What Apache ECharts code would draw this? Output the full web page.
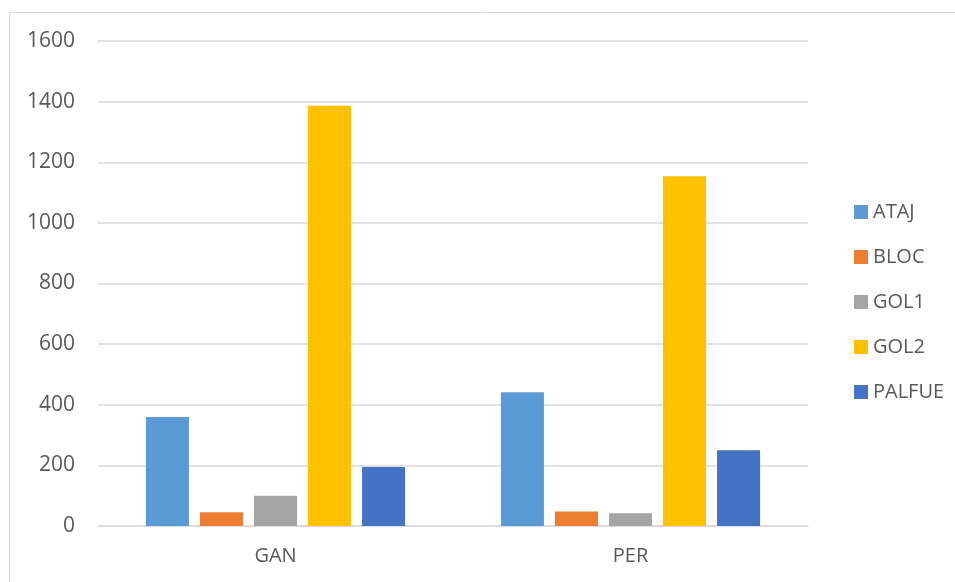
<!DOCTYPE html>
<html>
<head>
<meta charset="utf-8">
<script src="https://cdn.jsdelivr.net/npm/echarts@6/dist/echarts.min.js"></script>
<style>
  html, body { margin: 0; padding: 0; background: #fff; }
  #chart { width: 955px; height: 582px; }
</style>
</head>
<body>
<div id="chart"></div>
<script>
var categories = ['GAN', 'PER'];
var seriesNames = ['ATAJ', 'BLOC', 'GOL1', 'GOL2', 'PALFUE'];
var ataj = [360, 441];
var bloc = [45, 48];
var gol1 = [100, 42];
var gol2 = [1386, 1154];
var palfue = [195, 250];
var colors = ['#5B9BD5', '#ED7D31', '#A5A5A5', '#FFC000', '#4472C4'];

var values = [ataj, bloc, gol1, gol2, palfue];
var txt = '#595959';
var font = 'Open Sans';

var chart = echarts.init(document.getElementById('chart'));

var series = seriesNames.map(function (name, i) {
    return {
        name: name,
        type: 'bar',
        data: values[i],
        itemStyle: { color: colors[i] },
        barGap: '25.6%',
        barCategoryGap: '27%'
    };
});

chart.setOption({
    animation: false,
    color: colors,
    graphic: [{
        type: 'rect',
        shape: { x: 9.5, y: 12.5, width: 960, height: 600 },
        style: { fill: 'none', stroke: '#d9d9d9', lineWidth: 1 },
        silent: true
    }],
    grid: { left: 98, right: 147, top: 41, bottom: 56 },
    legend: {
        orient: 'vertical',
        left: 849,
        top: 197,
        icon: 'rect',
        itemWidth: 14,
        itemHeight: 14,
        itemGap: 25,
        textStyle: { color: txt, fontFamily: font, fontSize: 20, lineHeight: 20 },
        data: seriesNames
    },
    xAxis: {
        type: 'category',
        data: categories,
        axisLine: { lineStyle: { color: '#d9d9d9', width: 1.5 } },
        axisTick: { show: false },
        axisLabel: { color: txt, fontFamily: font, fontSize: 20, margin: 20 }
    },
    yAxis: {
        type: 'value',
        min: 0,
        max: 1600,
        interval: 200,
        axisLine: { show: false },
        axisTick: { show: false },
        splitLine: { lineStyle: { color: '#d9d9d9', width: 1.5 } },
        axisLabel: {
            color: txt, fontFamily: font, fontSize: 21, margin: 23,
            formatter: function (v) { return String(v); }
        }
    },
    series: series
});
</script>
</body>
</html>
